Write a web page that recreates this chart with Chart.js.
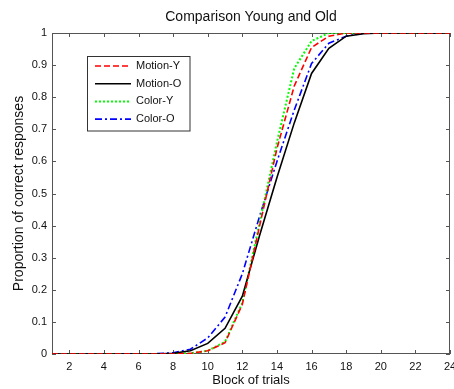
<!DOCTYPE html>
<html>
<head>
<meta charset="utf-8">
<script src="https://cdn.jsdelivr.net/npm/chart.js@4/dist/chart.umd.min.js"></script>
<style>
html,body{margin:0;padding:0;background:#fff;}
#wrap{width:454px;height:389px;position:relative;}
</style>
</head>
<body>
<div id="wrap"><canvas id="c" width="454" height="389"></canvas></div>
<script>
const blocks   = [1,2,3,4,5,6,7,8,9,10,11,12,13,14,15,16,17,18,19,20,21,22,23,24];
const motionY  = [0,0,0,0,0,0,0,0,0.002,0.01,0.035,0.155,0.40,0.64,0.835,0.955,0.99,1,1,1,1,1,1,1];
const motionO  = [0,0,0,0,0,0,0,0.002,0.01,0.033,0.08,0.18,0.37,0.55,0.72,0.874,0.952,0.99,0.998,1,1,1,1,1];
const colorY   = [0,0,0,0,0,0,0,0,0.002,0.01,0.038,0.16,0.41,0.66,0.89,0.975,1,1,1,1,1,1,1,1];
const colorO   = [0,0,0,0,0,0,0.001,0.004,0.015,0.05,0.115,0.25,0.43,0.60,0.76,0.905,0.968,0.99,1,1,1,1,1,1];
const xTicks   = [2,4,6,8,10,12,14,16,18,20,22,24];
const yTicks   = [0,0.1,0.2,0.3,0.4,0.5,0.6,0.7,0.8,0.9,1];
const yTickLabels = ['0','0.1','0.2','0.3','0.4','0.5','0.6','0.7','0.8','0.9','1'];

const pts = arr => blocks.map((b,i)=>({x:b,y:arr[i]}));
const FONT = '"Liberation Sans", Arial, sans-serif';

const framePlugin = {
  id:'frame',
  beforeDatasetsDraw(chart){
    const {ctx, chartArea:a, scales:{x,y}} = chart;
    ctx.save();
    ctx.strokeStyle = '#555';
    ctx.lineWidth = 1;
    ctx.strokeRect(a.left+0.5, a.top+0.5, a.right-a.left-1, a.bottom-a.top-1);
    const L = 4;
    ctx.beginPath();
    x.ticks.forEach(t=>{
      const px = Math.round(x.getPixelForValue(t.value))+0.5;
      ctx.moveTo(px,a.bottom); ctx.lineTo(px,a.bottom-L);
      ctx.moveTo(px,a.top); ctx.lineTo(px,a.top+L);
    });
    y.ticks.forEach(t=>{
      const py = Math.round(y.getPixelForValue(t.value))+0.5;
      ctx.moveTo(a.left,py); ctx.lineTo(a.left+L,py);
      ctx.moveTo(a.right,py); ctx.lineTo(a.right-L,py);
    });
    ctx.stroke();
    ctx.restore();
  }
};

const legendPlugin = {
  id:'boxLegend',
  afterDraw(chart){
    const {ctx} = chart;
    const bx=87.5, by=56.5, bw=102.5, bh=74.5;
    ctx.save();
    ctx.fillStyle='#fff';
    ctx.fillRect(bx,by,bw,bh);
    ctx.strokeStyle='#333';
    ctx.lineWidth=1;
    ctx.strokeRect(bx,by,bw,bh);
    ctx.font='11px '+FONT;
    ctx.textBaseline='middle';
    ctx.textAlign='left';
    chart.data.datasets.forEach((ds,i)=>{
      const yy = 66 + i*17.7;
      ctx.beginPath();
      ctx.strokeStyle=ds.borderColor;
      ctx.lineWidth=ds.borderWidth;
      ctx.setLineDash(ds.borderDash||[]);
      ctx.moveTo(95,yy); ctx.lineTo(131,yy);
      ctx.stroke();
      ctx.setLineDash([]);
      ctx.fillStyle='#111';
      ctx.fillText(ds.label,136,yy);
    });
    ctx.restore();
  }
};

new Chart(document.getElementById('c'),{
  type:'line',
  data:{
    datasets:[
      {label:'Motion-Y', data:pts(motionY), borderColor:'#ff0000', borderWidth:1.6, borderDash:[6,3]},
      {label:'Motion-O', data:pts(motionO), borderColor:'#000000', borderWidth:1.6},
      {label:'Color-Y',  data:pts(colorY),  borderColor:'#00ff00', borderWidth:2, borderDash:[2,2]},
      {label:'Color-O',  data:pts(colorO),  borderColor:'#0000ff', borderWidth:1.6, borderDash:[7,3,2,3]}
    ]
  },
  options:{
    responsive:false,
    animation:false,
    devicePixelRatio:1,
    layout:{padding:{left:0,right:4,top:0,bottom:0}},
    elements:{point:{radius:0}, line:{tension:0, fill:false}},
    plugins:{
      legend:{display:false},
      tooltip:{enabled:false},
      title:{display:false}
    },
    scales:{
      xTop:{
        type:'linear', position:'top', min:1, max:24,
        afterFit:s=>{ s.height=33; s.paddingLeft=0; s.paddingRight=0; },
        grid:{display:false, drawTicks:false},
        border:{display:false},
        ticks:{display:false},
        title:{display:true, text:'Comparison Young and Old', color:'#111',
               font:{family:FONT,size:14}, padding:{top:9,bottom:7}}
      },
      x:{
        type:'linear', position:'bottom', min:1, max:24,
        afterBuildTicks:s=>{ s.ticks = xTicks.map(v=>({value:v})); },
        afterFit:s=>{ s.height=35; s.paddingLeft=0; s.paddingRight=0; },
        grid:{display:false, drawTicks:false},
        border:{display:false},
        ticks:{color:'#111', font:{family:FONT,size:11}, padding:6, maxRotation:0, autoSkip:false,
               callback:v=>String(v)},
        title:{display:true, text:'Block of trials', color:'#111',
               font:{family:FONT,size:13}, padding:{top:0,bottom:1}}
      },
      y:{
        type:'linear', min:0, max:1,
        afterBuildTicks:s=>{ s.ticks = yTicks.map(v=>({value:v})); },
        afterFit:s=>{ s.width=52; s.paddingTop=0; s.paddingBottom=0; },
        grid:{display:false, drawTicks:false},
        border:{display:false},
        ticks:{color:'#111', font:{family:FONT,size:11}, padding:5, autoSkip:false,
               callback:(v,i)=>yTickLabels[yTicks.indexOf(v)] ?? String(v)},
        title:{display:true, text:'Proportion of correct responses', color:'#111',
               font:{family:FONT,size:14}, padding:{top:11,bottom:0}}
      }
    }
  },
  plugins:[framePlugin, legendPlugin]
});
</script>
</body>
</html>
